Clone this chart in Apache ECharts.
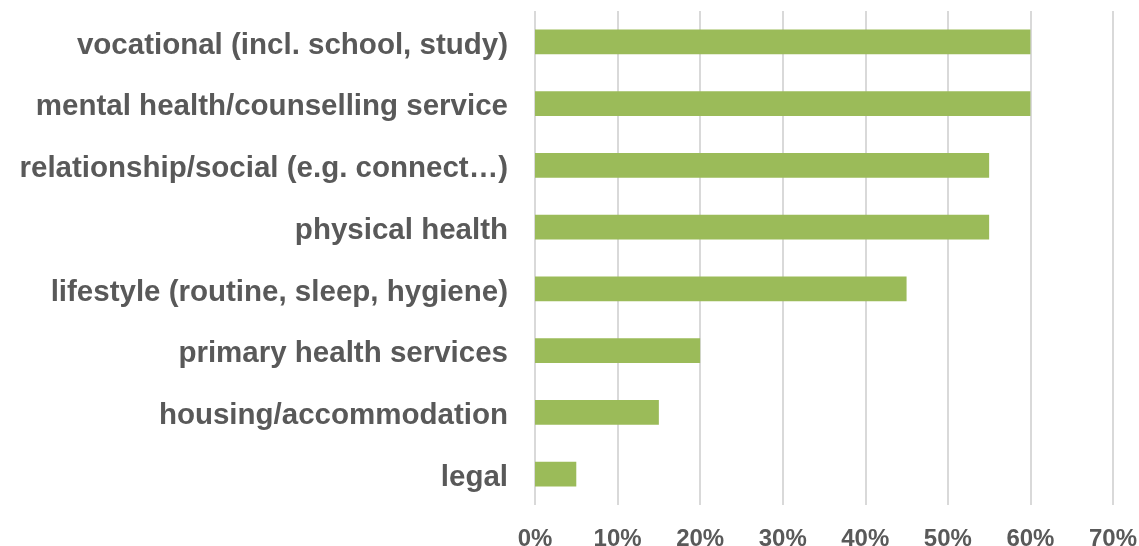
<!DOCTYPE html>
<html>
<head>
<meta charset="utf-8">
<script src="https://cdn.jsdelivr.net/npm/echarts@6/dist/echarts.min.js"></script>
<style>html,body{margin:0;padding:0;background:#fff;}#c{width:1139px;height:546px;}</style>
</head>
<body>
<div id="c"></div>
<script>
const categories = [
  "vocational (incl. school, study)",
  "mental health/counselling service",
  "relationship/social (e.g. connect…)",
  "physical health",
  "lifestyle (routine, sleep, hygiene)",
  "primary health services",
  "housing/accommodation",
  "legal"
];
const values = [60, 60, 55, 55, 45, 20, 15, 5];
const xTicks = [0, 10, 20, 30, 40, 50, 60, 70];

const labelFont = 'Liberation Sans, Arial, sans-serif';
const chart = echarts.init(document.getElementById('c'), null, {renderer: 'canvas'});
chart.setOption({
  animation: false,
  backgroundColor: '#ffffff',
  grid: {left: 535, right: 26, top: 11, bottom: 41, containLabel: false, outerBoundsMode: 'none'},
  xAxis: {
    type: 'value',
    min: xTicks[0],
    max: xTicks[xTicks.length - 1],
    interval: 10,
    axisLine: {show: false},
    axisTick: {show: false},
    splitLine: {show: true, lineStyle: {color: '#d9d9d9', width: 2}},
    axisLabel: {
      formatter: v => v + '%',
      color: '#595959',
      fontFamily: labelFont,
      fontWeight: 'bold',
      fontSize: 24,
      margin: 22,
      hideOverlap: false
    }
  },
  yAxis: {
    type: 'category',
    data: categories,
    inverse: true,
    axisLine: {show: false},
    axisTick: {show: false},
    splitLine: {show: false},
    axisLabel: {
      margin: 27,
      formatter: v => '{t|' + v + '}',
      rich: {
        t: {
          color: '#595959',
          fontFamily: labelFont,
          fontWeight: 'bold',
          fontSize: 29.5,
          padding: [7, 0, 0, 0]
        }
      }
    }
  },
  series: [{
    type: 'bar',
    data: values,
    barWidth: '40%',
    itemStyle: {color: '#9bbb59'}
  }]
});
</script>
</body>
</html>
